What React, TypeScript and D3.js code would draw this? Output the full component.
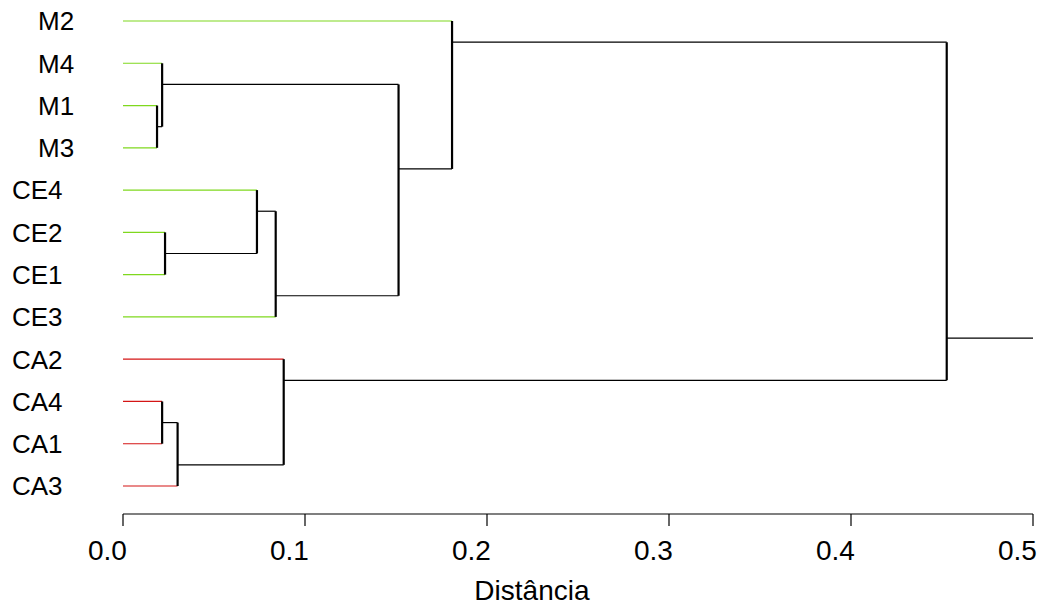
import React from "react";
import * as d3 from "d3";

const leafLabels = ["M2", "M4", "M1", "M3", "CE4", "CE2", "CE1", "CE3", "CA2", "CA4", "CA1", "CA3"];
const leafGroups = ["g", "g", "g", "g", "g", "g", "g", "g", "r", "r", "r", "r"];
// merges: negative = leaf (1-based), positive = earlier merge (1-based)
const mergeLeft = [-3, -2, -6, -5, 4, 2, -1, -10, 8, -9, 7];
const mergeRight = [-4, 1, -7, 3, -8, 5, 6, -11, -12, 9, 10];
const mergeHeight = [0.0187, 0.0215, 0.0231, 0.0736, 0.0839, 0.1514, 0.1808, 0.0215, 0.0300, 0.0883, 0.4526];
const mergeMidpoint = [0.5, 0.5, 0.5, 0.5, 2.5, 2.5, 0.5, 0.5, 1.5, 0.5, 7.5];
const tickValues = [0.0, 0.1, 0.2, 0.3, 0.4, 0.5];
const xTitle = "Distância";

const W = 1041;
const H = 606;
const groupColor: Record<string, string> = { g: "#7FD81E", r: "#D41515" };
const FONT = "'Liberation Sans', Arial, Helvetica, sans-serif";
const LEAF_FS = 26;
const AXIS_FS = 28;

let ctx: CanvasRenderingContext2D | null = null;
function textWidth(s: string, fs: number): number {
  if (!ctx) ctx = document.createElement("canvas").getContext("2d");
  if (!ctx) return s.length * fs * 0.6;
  ctx.font = `${fs}px 'Liberation Sans', Arial, sans-serif`;
  return ctx.measureText(s).width;
}

export default function App() {
  const x = d3.scaleLinear().domain([0, 0.5]).range([123, 1033]);
  const y = d3.scaleLinear().domain([1, 12]).range([21, 486]);

  const leftLeaf = (c: number): number => (c < 0 ? -c : leftLeaf(mergeLeft[c - 1]));
  const nodePos = (c: number): number => (c < 0 ? -c : leftLeaf(c) + mergeMidpoint[c - 1]);
  const nodeH = (c: number): number => (c < 0 ? 0 : mergeHeight[c - 1]);

  const horiz: JSX.Element[] = [];
  const vert: JSX.Element[] = [];
  mergeHeight.forEach((h, i) => {
    const kids = [mergeLeft[i], mergeRight[i]];
    const ys = kids.map((k) => y(nodePos(k)));
    kids.forEach((k, j) => {
      const col = k < 0 ? groupColor[leafGroups[-k - 1]] : "#000";
      horiz.push(
        <line key={`h${i}-${j}`} x1={x(nodeH(k))} x2={x(h)} y1={ys[j]} y2={ys[j]} stroke={col} strokeWidth={1.2} />
      );
    });
    vert.push(
      <line key={`v${i}`} x1={x(h)} x2={x(h)} y1={ys[0]} y2={ys[1]} stroke="#000" strokeWidth={2.2} />
    );
  });
  const root = mergeHeight.length;
  const rootY = y(nodePos(root));

  return (
    <svg width={W} height={H} style={{ position: "absolute", left: 0, top: 0, background: "#fff" }} fontFamily={FONT}>
      <rect width={W} height={H} fill="#fff" />
      {leafLabels.map((l, i) => (
        <text key={l} x={103 - 1.8 * textWidth(l, LEAF_FS)} y={y(i + 1)} dy="0.36em" fontSize={LEAF_FS} fill="#000">
          {l}
        </text>
      ))}
      {horiz}
      {vert}
      <line x1={x(mergeHeight[root - 1])} x2={x(0.5)} y1={rootY} y2={rootY} stroke="#000" strokeWidth={1.2} />
      <line x1={x(0)} x2={x(0.5)} y1={514} y2={514} stroke="#000" strokeWidth={1.2} />
      {tickValues.map((t) => {
        const lab = d3.format(".1f")(t);
        return (
          <g key={t}>
            <line x1={x(t)} x2={x(t)} y1={514} y2={526} stroke="#000" strokeWidth={1.2} />
            <text x={x(t) - 0.4 * textWidth(lab, AXIS_FS)} y={560} textAnchor="middle" fontSize={AXIS_FS} fill="#000">
              {lab}
            </text>
          </g>
        );
      })}
      <text x={x(0.25) - 0.4 * textWidth(xTitle, AXIS_FS)} y={600} textAnchor="middle" fontSize={AXIS_FS} fill="#000">
        {xTitle}
      </text>
    </svg>
  );
}
